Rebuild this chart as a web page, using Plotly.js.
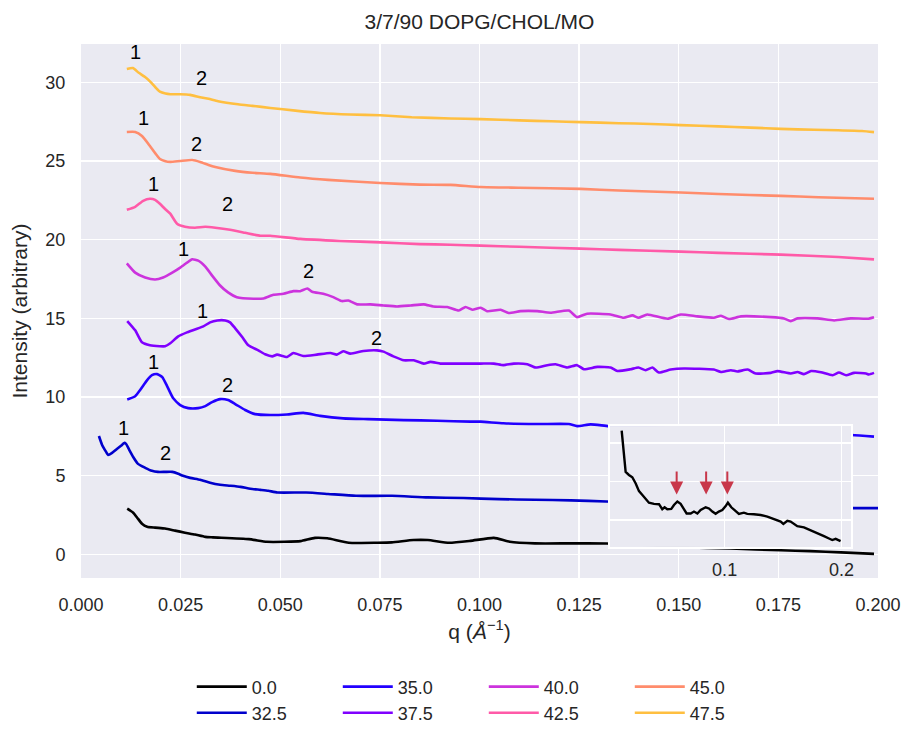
<!DOCTYPE html>
<html>
<head>
<meta charset="utf-8">
<script src="https://cdn.plot.ly/plotly-3.0.1.min.js"></script>
<style>html,body{margin:0;padding:0;background:#fff}#chart{width:910px;height:729px}</style>
</head>
<body>
<div id="chart"></div>
<script>
// ---- data ----
const labels = ["0.0","32.5","35.0","37.5","40.0","42.5","45.0","47.5"];
const colors = ["#000000","#0000cc","#2200ff","#8000ff","#cc33dd","#ff5aa8","#ff8c6c","#ffbf40"];

const q_00 = [.0116,.0131,.0141,.0153,.0166,.0186,.0211,.0236,.0261,.0286,.0312,.0331,.0421,.0466,.0511,.0551,.0587,.0618,.0672,.0744,.078,.0834,.087,.0924,.0977,.1036,.1076,.1139,.1229,.1318,.14,.151,.163,.1756,.183,.1907,.199];
const i_00 = [2.91,2.66,2.34,1.96,1.77,1.71,1.65,1.52,1.39,1.27,1.12,1.09,0.98,0.81,0.81,0.85,1.06,1.03,0.75,0.75,0.77,0.92,0.92,0.75,0.87,1.06,0.81,0.71,0.71,0.70,0.64,0.46,0.38,0.27,0.22,0.14,0.04];

const q_325 = [.0045,.0053,.0063,.0068,.0078,.009,.0103,.0108,.0113,.0121,.0131,.0143,.0161,.0178,.0193,.0211,.0229,.0244,.0256,.0274,.0299,.0324,.0349,.0374,.04,.0425,.045,.047,.0493,.0565,.062,.069,.078,.087,.096,.1049,.1139,.1229,.1318,.14,.15,.16,.17,.18,.1934,.2];
const i_325 = [7.53,6.96,6.52,6.33,6.46,6.71,6.96,7.09,7.03,6.65,6.2,5.76,5.51,5.32,5.25,5.25,5.25,5.13,5.0,4.87,4.75,4.56,4.43,4.37,4.3,4.18,4.11,4.05,3.94,3.94,3.85,3.73,3.73,3.63,3.59,3.52,3.48,3.44,3.37,3.3,3.22,3.15,3.08,3.02,2.95,2.95];

const q_350 = [.0116,.0136,.0148,.0166,.0178,.0191,.0204,.0216,.0231,.0249,.0269,.0294,.0312,.0329,.0349,.0369,.0387,.0412,.0437,.0475,.0517,.0558,.06,.0658,.072,.081,.0894,.0977,.1003,.106,.1145,.1224,.1245,.1279,.1324,.14,.15,.16,.17,.18,.1934,.199];
const i_350 = [9.85,10.06,10.44,11.08,11.39,11.46,11.27,10.7,9.94,9.49,9.3,9.3,9.43,9.68,9.87,9.81,9.56,9.18,8.92,8.86,8.9,9.0,8.81,8.65,8.6,8.54,8.5,8.44,8.44,8.34,8.29,8.29,8.16,8.27,8.16,8.1,8.0,7.92,7.82,7.72,7.59,7.49];

const q_375 = [.0116,.0136,.0153,.0173,.0198,.0211,.0224,.0244,.0266,.0286,.0307,.0324,.0342,.0362,.0374,.0387,.0405,.042,.0445,.0462,.048,.0492,.0517,.0533,.0558,.0592,.0626,.0642,.0658,.0676,.0709,.0743,.0759,.0784,.081,.0835,.086,.0877,.0902,.0944,.1003,.1036,.106,.1086,.112,.1141,.117,.1191,.122,.1245,.1262,.1296,.1329,.1346,.1379,.1399,.1417,.1434,.145,.148,.1513,.1588,.1606,.1631,.1647,.1673,.1693,.1731,.1748,.1781,.1798,.1814,.1832,.1857,.1886,.1902,.192,.194,.197,.1977,.199];
const i_375 = [14.83,14.24,13.48,13.29,13.23,13.23,13.42,13.86,14.11,14.3,14.49,14.75,14.87,14.87,14.75,14.37,13.8,13.29,12.97,12.72,12.59,12.7,12.55,12.8,12.61,12.7,12.8,12.7,12.91,12.76,12.93,12.97,12.89,12.59,12.34,12.34,12.13,12.24,12.13,12.13,12.13,12.13,12.03,12.13,12.09,11.88,12.03,12.09,11.88,12.03,11.77,11.92,11.88,11.66,11.77,11.88,11.71,11.88,11.56,11.75,11.82,11.75,11.6,11.71,11.63,11.75,11.5,11.54,11.65,11.5,11.6,11.46,11.66,11.58,11.39,11.56,11.39,11.54,11.5,11.44,11.54];

const q_400 = [.0115,.0136,.0161,.0186,.0206,.0229,.0249,.0266,.0279,.0294,.0312,.0329,.0349,.0369,.0391,.0433,.0458,.0483,.0508,.0533,.055,.0568,.058,.0608,.0633,.0655,.0671,.0693,.0726,.0759,.0793,.0827,.086,.0884,.0919,.0948,.0965,.0982,.1003,.1019,.1053,.1073,.1103,.1145,.1178,.1224,.1245,.127,.1329,.1362,.1384,.1399,.1421,.1472,.1505,.1547,.1588,.1606,.1626,.1656,.1731,.1764,.1781,.1798,.1848,.189,.1932,.1974,.199];
const i_400 = [18.5,17.91,17.6,17.47,17.6,17.91,18.23,18.54,18.76,18.67,18.29,17.72,17.09,16.65,16.35,16.25,16.27,16.5,16.56,16.73,16.73,16.9,16.69,16.56,16.35,16.1,16.14,15.89,15.89,15.82,15.76,15.82,15.89,15.76,15.72,15.5,15.72,15.55,15.68,15.46,15.55,15.34,15.46,15.46,15.36,15.5,15.08,15.3,15.25,15.04,15.19,15.04,15.25,14.98,15.25,15.13,15.04,15.17,14.96,15.13,15.08,15.0,14.83,15.0,15.0,14.87,15.0,14.98,15.08];

const q_425 = [.0115,.0136,.0156,.0173,.0186,.0198,.0211,.0224,.0241,.0261,.0286,.0312,.0337,.0374,.0412,.045,.0475,.055,.065,.0751,.085,.0927,.1003,.11,.1254,.135,.1505,.16,.1756,.19,.199];
const i_425 = [21.9,22.09,22.47,22.6,22.53,22.28,21.95,21.65,21.01,20.82,20.76,20.82,20.76,20.63,20.44,20.25,20.25,20.05,19.92,19.83,19.72,19.68,19.62,19.55,19.43,19.35,19.24,19.16,19.05,18.9,18.75];

const q_450 = [.0115,.0136,.0153,.0173,.0186,.0198,.0212,.0224,.0249,.0279,.0299,.0320,.0337,.0387,.0430,.0475,.055,.062,.0751,.085,.0927,.1003,.11,.1254,.135,.1505,.16,.1756,.185,.199];
const i_450 = [26.84,26.84,26.58,25.95,25.5,25.13,24.98,24.94,25.0,25.06,24.94,24.75,24.62,24.37,24.25,24.18,23.95,23.8,23.6,23.5,23.48,23.35,23.3,23.23,23.12,23.0,22.9,22.78,22.7,22.6];

const q_475 = [.0115,.013,.0145,.0160,.0173,.0186,.0198,.0212,.0224,.0249,.0274,.0299,.0320,.0344,.0394,.0430,.0475,.0538,.06,.0675,.0751,.083,.0927,.1003,.11,.118,.1254,.135,.143,.1505,.16,.168,.1756,.184,.19,.196,.199];
const i_475 = [30.84,30.9,30.6,30.35,30.06,29.7,29.4,29.28,29.24,29.24,29.2,29.05,28.95,28.8,28.6,28.5,28.37,28.2,28.05,27.95,27.9,27.78,27.7,27.66,27.58,27.52,27.47,27.4,27.35,27.28,27.2,27.12,27.04,26.98,26.95,26.9,26.83];

// inset: the 0.0 curve on its own (unlabelled) scale
const qInset = [.0120,.0134,.0154,.0182,.0211,.0240,.0268,.0297,.0325,.0353,.0396,.0439,.0467,.0487,.0510,.0544,.0567,.0596,.0624,.0652,.0675,.0710,.0738,.0767,.0795,.0838,.0866,.0895,.0923,.0951,.0980,.1009,.1028,.1057,.1094,.1122,.1165,.1194,.1250,.1308,.1365,.1422,.1479,.1502,.1536,.1564,.1621,.1678,.1735,.1792,.1849,.1892,.1920,.1949,.1991];
const iInset = [3.32,2.82,2.25,2.17,2.11,1.95,1.75,1.65,1.55,1.45,1.42,1.41,1.28,1.33,1.28,1.29,1.39,1.48,1.42,1.30,1.17,1.17,1.22,1.17,1.26,1.33,1.30,1.22,1.16,1.22,1.26,1.36,1.45,1.33,1.22,1.16,1.19,1.16,1.15,1.13,1.09,1.02,0.96,0.90,0.98,0.96,0.84,0.81,0.74,0.67,0.58,0.52,0.48,0.51,0.45];

// peak labels
const peakX = [.0136,.0303,.0158,.0291,.0183,.0368,.0257,.0571,.0306,.0741,.0181,.0368,.0106,.0211];
const peakY = [31.9,30.27,27.74,26.1,23.52,22.26,19.41,17.99,15.5,13.78,12.22,10.8,8.02,6.44];
const peakText = ["1","2","1","2","1","2","1","2","1","2","1","2","1","2"];

// inset arrows
const arrowQ = [0.059, 0.0842, 0.1023];
const arrowTop = [2.30, 2.30, 2.30];
const arrowTip = [1.66, 1.66, 1.66];

const xTickVals = [0,0.025,0.05,0.075,0.1,0.125,0.15,0.175,0.2];
const yTickVals = [0,5,10,15,20,25,30];

// ---- build ----
const series = [[q_00,i_00],[q_325,i_325],[q_350,i_350],[q_375,i_375],[q_400,i_400],[q_425,i_425],[q_450,i_450],[q_475,i_475]];
const FONT = "Liberation Sans, Arial, sans-serif";
const TXT = "#262626";
const traces = [];
series.forEach((s, k) => {
  traces.push({
    x: s[0], y: s[1], type: "scatter", mode: "lines", name: labels[k],
    line: {color: colors[k], width: 2.6, shape: "spline", smoothing: 0.5},
    xaxis: "x", yaxis: "y",
    legend: (k % 2 === 0) ? "legend" : "legend2",
    legendrank: k
  });
});
traces.push({
  x: qInset, y: iInset, type: "scatter", mode: "lines", showlegend: false,
  line: {color: "#000000", width: 2.4}, xaxis: "x2", yaxis: "y2"
});

const annotations = peakX.map((x, k) => ({
  x: x, y: peakY[k], xref: "x", yref: "y", text: peakText[k], showarrow: false,
  font: {family: FONT, size: 20, color: "#000"}
}));
arrowQ.forEach((q, k) => {
  annotations.push({
    x: q, y: arrowTip[k], xref: "x2", yref: "y2", ax: q, ay: arrowTop[k],
    axref: "x2", ayref: "y2", text: "", showarrow: true,
    arrowhead: 2, arrowsize: 1.3, arrowwidth: 2, arrowcolor: "#c8374a"
  });
});

const legendCommon = {
  orientation: "h", xanchor: "left", yanchor: "middle",
  font: {family: FONT, size: 18, color: TXT},
  bgcolor: "rgba(0,0,0,0)", entrywidth: 81, entrywidthmode: "pixels",
  itemwidth: 50, traceorder: "normal"
};

const layout = {
  width: 910, height: 729,
  margin: {l: 81, r: 32, t: 44, b: 151, autoexpand: false},
  paper_bgcolor: "#ffffff", plot_bgcolor: "#eaeaf2",
  font: {family: FONT, size: 18, color: TXT},
  title: {text: "3/7/90 DOPG/CHOL/MO", x: 0.5, xref: "paper", xanchor: "center", y: 0.9698, yref: "container", yanchor: "middle", font: {family: FONT, size: 21, color: TXT}},
  xaxis: {
    range: [0, 0.2], tickvals: xTickVals, tickformat: ".3f",
    showgrid: true, gridcolor: "#ffffff", gridwidth: 1.3, zeroline: false, showline: false,
    ticks: "outside", ticklen: 10, tickcolor: "rgba(0,0,0,0)",
    tickfont: {family: FONT, size: 18, color: TXT},
    title: {text: "q (<i>Å</i><sup>−1</sup>)", font: {family: FONT, size: 21, color: TXT}, standoff: 10},
    domain: [0, 1], automargin: false
  },
  yaxis: {
    range: [-1.49, 32.43], tickvals: yTickVals,
    showgrid: true, gridcolor: "#ffffff", gridwidth: 1.3, zeroline: false, showline: false,
    ticks: "outside", ticklen: 11, tickcolor: "rgba(0,0,0,0)",
    tickfont: {family: FONT, size: 18, color: TXT},
    title: {text: "Intensity (arbitrary)", font: {family: FONT, size: 21, color: TXT}, standoff: 12},
    domain: [0, 1], automargin: false
  },
  xaxis2: {
    anchor: "y2", domain: [0.6637, 0.9661], range: [0.002, 0.208],
    tickvals: [0.1, 0.2], ticktext: ["0.1", "0.2"],
    showgrid: true, gridcolor: "#ffffff", gridwidth: 1.3, zeroline: false,
    showline: true, linecolor: "#ffffff", linewidth: 2, mirror: true,
    ticks: "outside", ticklen: 5, tickcolor: "rgba(0,0,0,0)",
    tickfont: {family: FONT, size: 18, color: TXT}, automargin: false
  },
  yaxis2: {
    anchor: "x2", domain: [0.0581, 0.2846], range: [0.30, 3.44],
    tickvals: [1, 2, 3], showticklabels: false,
    showgrid: true, gridcolor: "#ffffff", gridwidth: 1.3, zeroline: false,
    showline: true, linecolor: "#ffffff", linewidth: 2, mirror: true, automargin: false
  },
  legend: Object.assign({x: 0.139, y: -0.204}, legendCommon),
  legend2: Object.assign({x: 0.139, y: -0.253}, legendCommon),
  annotations: annotations,
  showlegend: true
};

Plotly.newPlot("chart", traces, layout, {displayModeBar: false, staticPlot: true});
</script>
</body>
</html>
